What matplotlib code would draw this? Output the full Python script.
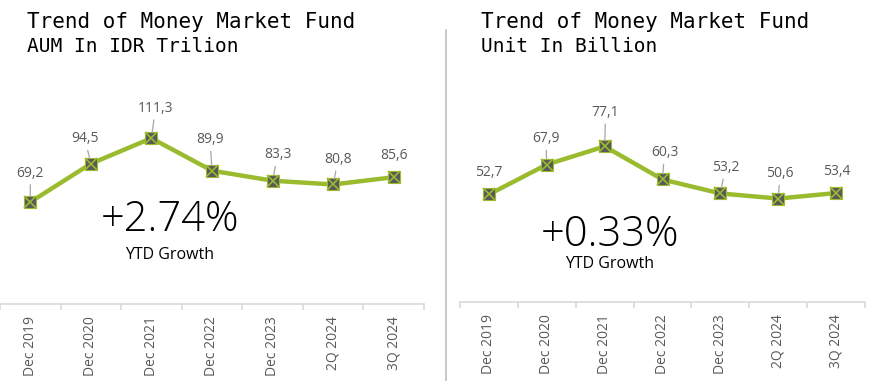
import matplotlib.pyplot as plt
from matplotlib.lines import Line2D

categories = ['Dec 2019', 'Dec 2020', 'Dec 2021', 'Dec 2022', 'Dec 2023', '2Q 2024', '3Q 2024']
aum = [69.2, 94.5, 111.3, 89.9, 83.3, 80.8, 85.6]
units = [52.7, 67.9, 77.1, 60.3, 53.2, 50.6, 53.4]

W, H = 870, 381
green = '#9BBB2F'
dark = '#595959'
grid = '#D9D9D9'
font = 'Open Sans'

fig = plt.figure(figsize=(W / 100, H / 100), dpi=100)


def px_axes(x0, x1, ytop, ybot):
    return fig.add_axes([x0 / W, (H - ybot) / H, (x1 - x0) / W, (ybot - ytop) / H])


def panel(ax, vals, ylim, offsets, title1, title2, tx, growth, gxy, ytd_y):
    x = list(range(len(vals)))
    ax.plot(x, vals, color=green, lw=3.2, zorder=2, solid_joinstyle='round')
    ax.plot(x, vals, ls='none', marker='s', ms=9, mfc=dark, mec=green, mew=0.8, zorder=3)
    ax.plot(x, vals, ls='none', marker='x', ms=8, mec=green, mew=1.2, zorder=4)
    for i, v in enumerate(vals):
        dx, dy, lead = offsets[i]
        ax.annotate(f'{v:.1f}'.replace('.', ','), (i, v), xytext=(dx, dy),
                    textcoords='offset pixels', ha='center', va='center',
                    fontsize=10, color=dark, family=font, annotation_clip=False,
                    arrowprops=dict(arrowstyle='-', color='#A6A6A6', lw=0.9,
                                    shrinkA=1, shrinkB=4) if lead else None)
    ax.set_xlim(-0.5, len(vals) - 0.5)
    ax.set_ylim(*ylim)
    for s in ['top', 'right', 'left']:
        ax.spines[s].set_visible(False)
    ax.spines['bottom'].set_color(grid)
    ax.spines['bottom'].set_linewidth(1.2)
    ax.set_yticks([])
    ax.set_xticks(x)
    ax.set_xticklabels(categories, rotation=90, fontsize=10, color=dark, family=font)
    ax.set_xticks([i - 0.5 for i in range(len(vals) + 1)], minor=True)
    ax.tick_params(axis='x', which='major', length=0, pad=9)
    ax.tick_params(axis='x', which='minor', length=4, color=grid, width=1.2)
    ax.patch.set_alpha(0)
    fig.text(tx / W, 1 - 22 / H, title1, family='DejaVu Sans Mono', fontsize=15,
             va='center', ha='left', color='black')
    fig.text(tx / W, 1 - 47 / H, title2, family='DejaVu Sans Mono', fontsize=14,
             va='center', ha='left', color='black')
    fig.text(gxy[0] / W, 1 - gxy[1] / H, growth, family=font, fontsize=30,
             fontweight='light', ha='center', va='center', color='black')
    fig.text(gxy[0] / W, 1 - ytd_y / H, 'YTD Growth', family=font, fontsize=11.5,
             ha='center', va='center', color='black')


# label offsets in pixels (dx, dy, leader line)
off_left = [(0, 29, True), (-6, 25, True), (4, 30, True), (-2, 31, True),
            (5, 26, True), (5, 25, True), (0, 22, False)]
off_right = [(0, 22, False), (-1, 26, True), (1, 34, True), (2, 27, True),
             (5, 26, True), (2, 25, True), (1, 22, False)]

ax1 = px_axes(0, 424, 122, 304)
panel(ax1, aum, (2, 122), off_left, 'Trend of Money Market Fund', 'AUM In IDR Trilion',
      27, '+2.74%', (170, 220), 255)

ax2 = px_axes(460, 865, 125, 302)
panel(ax2, units, (-2, 88), off_right, 'Trend of Money Market Fund', 'Unit In Billion',
      481, '+0.33%', (610, 235), 264)

fig.add_artist(Line2D([446 / W, 446 / W], [0, 1 - 30 / H], color='#BFBFBF', lw=1.2))

fig.savefig('out.png', dpi=100)
